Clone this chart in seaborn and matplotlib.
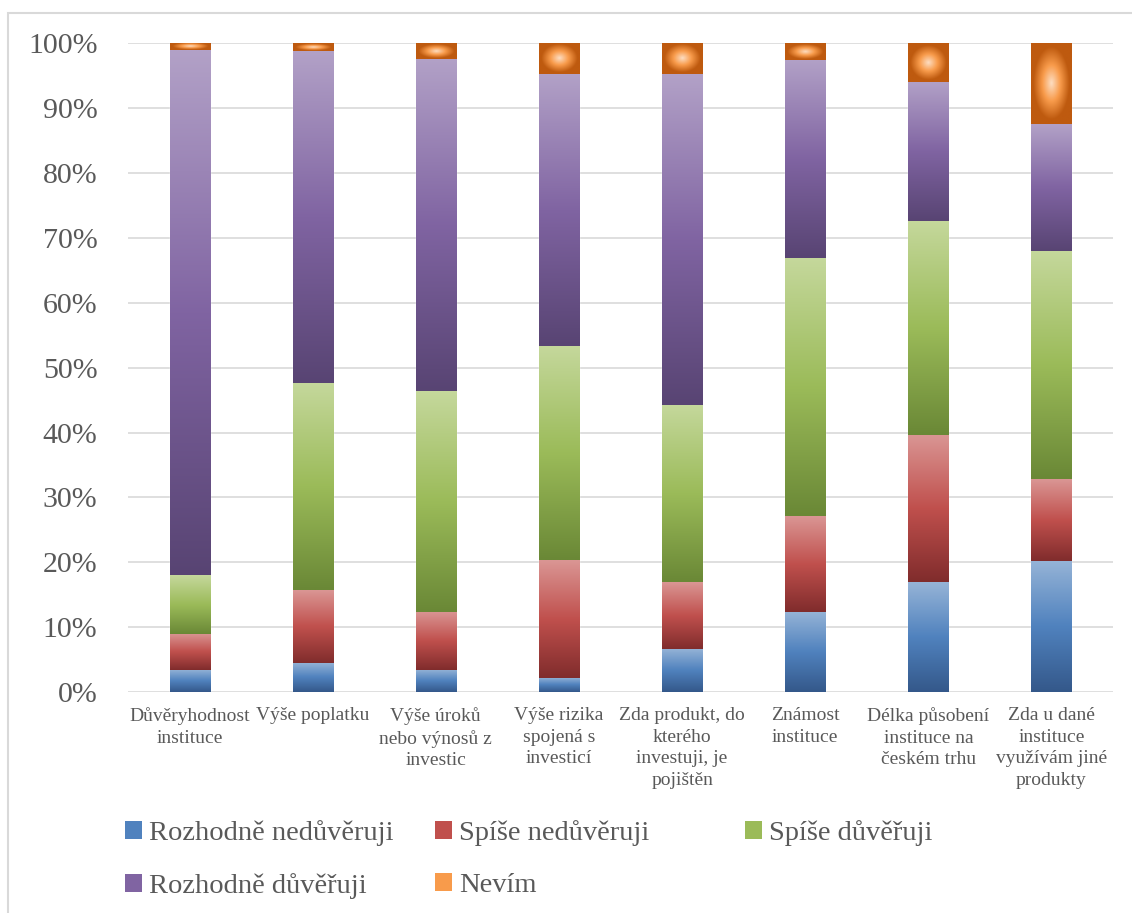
import numpy as np
import pandas as pd
import matplotlib.pyplot as plt
import seaborn as sns
from matplotlib.patches import Patch, Rectangle

# categories and answer shares (%)
categories = ['Důvěryhodnost\ninstituce', 'Výše poplatku',
              'Výše úroků\nnebo výnosů z\ninvestic', 'Výše rizika\nspojená s\ninvesticí',
              'Zda produkt, do\nkterého\ninvestuji, je\npojištěn', 'Známost\ninstituce',
              'Délka působení\ninstituce na\nčeském trhu',
              'Zda u dané\ninstituce\nvyužívám jiné\nprodukty']
rozhodne_nedoveruji = [3.4, 4.5, 3.4, 2.2, 6.7, 12.4, 16.9, 20.2]
spise_nedoveruji = [5.6, 11.2, 9.0, 18.1, 10.2, 14.7, 22.7, 12.6]
spise_doveruji = [9.0, 32.0, 34.0, 33.0, 27.3, 39.8, 33.0, 35.2]
rozhodne_doveruji = [80.9, 51.1, 51.2, 41.9, 51.0, 30.6, 21.5, 19.5]
nevim = [1.1, 1.2, 2.4, 4.8, 4.8, 2.5, 5.9, 12.5]
series_names = ['Rozhodně nedůvěruji', 'Spíše nedůvěruji', 'Spíše důvěřuji',
                'Rozhodně důvěřuji', 'Nevím']
series_values = [rozhodne_nedoveruji, spise_nedoveruji, spise_doveruji,
                 rozhodne_doveruji, nevim]

# gradient stops: top, middle, bottom (radial for the last one: centre, mid, edge)
stops = [
    [(150, 180, 215), (80, 130, 190), (52, 88, 138)],
    [(218, 150, 148), (192, 80, 77), (128, 44, 44)],
    [(197, 216, 156), (155, 187, 89), (106, 136, 54)],
    [(178, 161, 199), (128, 100, 162), (88, 68, 115)],
    [(253, 222, 195), (248, 155, 75), (190, 90, 15)],
]
grey = '#595959'


def ramp(t, cols):
    cols = np.array(cols) / 255.0
    t = np.clip(t, 0, 1)[..., None]
    lo = cols[0] + (cols[1] - cols[0]) * (t / 0.5)
    hi = cols[1] + (cols[2] - cols[1]) * ((t - 0.5) / 0.5)
    return np.where(t < 0.5, lo, hi)


sns.set_theme(style='white')
plt.rcParams['font.family'] = ['Liberation Serif', 'DejaVu Serif']

fig = plt.figure(figsize=(11.32, 9.13), dpi=100)
ax = fig.add_axes([128 / 1132, 1 - 692 / 913, (1113 - 128) / 1132, (692 - 43.3) / 913])

bottom = np.zeros(len(categories))
for i, (name, vals) in enumerate(zip(series_names, series_values)):
    n0 = len(ax.patches)
    sns.barplot(x=categories, y=vals, bottom=bottom, color=np.array(stops[i][1]) / 255,
                width=0.325, saturation=1, errorbar=None, ax=ax, zorder=2)
    for p in ax.patches[n0:]:
        x0, y0, w, h = p.get_x(), p.get_y(), p.get_width(), p.get_height()
        if i < 4:
            t = np.linspace(0, 1, 200)
            img = ramp(t, stops[i])[:, None, :]
        else:
            yy, xx = np.mgrid[-1:1:120j, -1:1:60j]
            img = ramp(np.sqrt(xx ** 2 + yy ** 2) * 1.12, stops[i])
        ax.imshow(img, extent=[x0, x0 + w, y0, y0 + h], aspect='auto',
                  interpolation='bilinear', zorder=3)
    bottom = bottom + np.array(vals)

ax.set_xlim(-0.5, len(categories) - 0.5)
ax.set_ylim(0, 100)
ax.set_yticks(range(0, 101, 10))
ax.set_yticklabels([f'{v}%' for v in range(0, 101, 10)])
ax.yaxis.grid(True, color='#D9D9D9', linewidth=1.2, zorder=0)
ax.set_axisbelow(True)
for s in ax.spines.values():
    s.set_visible(False)
ax.tick_params(axis='y', length=0, pad=22, labelsize=21.5, labelcolor=grey)
ax.tick_params(axis='x', length=0, pad=11, labelsize=14, labelcolor=grey)
for lab in ax.get_xticklabels():
    lab.set_linespacing(1.35)
    lab.set_verticalalignment('top')
ax.set_xlabel('')
ax.set_ylabel('')

# legend laid out in three equal columns like the original
handles = [Patch(facecolor=np.array(s[1]) / 255, edgecolor='none') for s in stops]
columns = [[0, 3], [1, 4], [2]]
col_x = [125, 435, 745]
for cols, x in zip(columns, col_x):
    fig.legend([handles[k] for k in cols], [series_names[k] for k in cols],
               loc='upper left', bbox_to_anchor=(x / 1132, 1 - 820 / 913),
               frameon=False, borderpad=0, borderaxespad=0, fontsize=20.5,
               labelcolor=grey, handlelength=0.6, handleheight=0.6,
               handletextpad=0.25, labelspacing=0.95)

# chart area border (clipped at the right and bottom like the screenshot)
fig.patches.append(Rectangle((8 / 1132, -0.1), 1.2, 1.1 - 13 / 913, transform=fig.transFigure,
                             fill=False, edgecolor='#D9D9D9', linewidth=1.5))

fig.savefig('out.png', dpi=100, facecolor='white')
